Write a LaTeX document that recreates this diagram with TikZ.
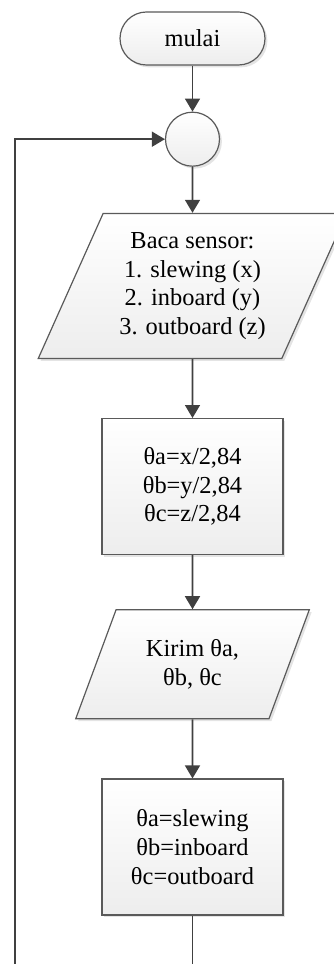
\documentclass[tikz,border=0pt]{standalone}
\usepackage{fontspec}
\setmainfont{Liberation Serif}
\usepackage{xcolor}
\usepackage{tikz}
\usetikzlibrary{shapes.geometric,arrows.meta,positioning,shadows,calc}

\definecolor{linegray}{HTML}{404040}
\definecolor{edgegray}{HTML}{5A5A5A}

\begin{document}
\begin{tikzpicture}[node distance=23pt, font=\fontsize{12.2}{14.3}\selectfont, >=Triangle]
\tikzset{
  base/.style={draw=edgegray, align=center, line width=0.6pt, top color=white, bottom color=gray!14,
    drop shadow={shadow xshift=1.2pt, shadow yshift=-1.2pt, fill=gray!35, opacity=0.6}},
  terminal/.style={base, rectangle, rounded corners=13.25pt, minimum width=72.5pt, minimum height=26.5pt},
  joint/.style={base, circle, minimum size=27pt, inner sep=0pt},
  io/.style={base, trapezium, trapezium left angle=63.6, trapezium right angle=116.4, trapezium stretches=true, inner sep=0pt},
  process/.style={base, rectangle, minimum width=90.5pt, minimum height=68pt},
  arrow/.style={-{Triangle[width=7.5pt,length=6.5pt]}, draw=linegray, line width=0.8pt},
}
\useasboundingbox (0,0) rectangle (166.5pt,482pt);

% Start
\node (start) [terminal] at (96.25pt,462.75pt) {mulai};
\node (join) [joint, below=of start] {};

% Read sensors
\node (read) [io, below=of join, minimum width=154.5pt, minimum height=72.5pt] {Baca sensor:\\1. slewing (x)\\2. inboard (y)\\3. outboard (z)};
\node (calc) [process, below=29.5pt of read] {θa=x/2,84\\θb=y/2,84\\θc=z/2,84};

% Send angles
\node (send) [io, below=27pt of calc, minimum width=117.5pt, minimum height=54.5pt] {Kirim θa,\\θb, θc};
\node (assign) [process, below=29.5pt of send] {θa=slewing\\θb=inboard\\θc=outboard};

\draw[arrow] (start) -- (join);
\draw[arrow] (join) -- (read);
\draw[arrow] (read) -- (calc);
\draw[arrow] (calc) -- (send);
\draw[arrow] (send) -- (assign);

% Loop back
\coordinate (loopbot) at ($(assign.south)+(0,-32pt)$);
\coordinate (loopleft) at (7.5pt,0 |- loopbot);
\draw[arrow] (assign.south) -- (loopbot) -- (loopleft) |- (join.west);

\end{tikzpicture}
\end{document}
